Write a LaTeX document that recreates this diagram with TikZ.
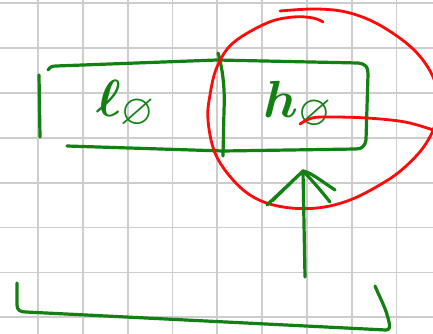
\documentclass[tikz,border=0pt]{standalone}
\usepackage{graphicx}
\usepackage{amssymb}
\definecolor{pen}{RGB}{18,128,18}
\definecolor{redpen}{RGB}{255,10,10}
\definecolor{gridgray}{RGB}{205,205,205}
\begin{document}
\begin{tikzpicture}[x=1pt,y=-1pt,
  gridline/.style={draw=gridgray,line width=1.8pt},
  greenstroke/.style={draw=pen,line width=3.2pt,line cap=round,line join=round},
  redstroke/.style={draw=redpen,line width=2.8pt,line cap=round,line join=round},
  label/.style={text=pen,inner sep=0pt,font=\Huge\boldmath}]
\useasboundingbox (0,0) rectangle (433,334);
\fill[white] (0,0) rectangle (433,334);
% grid
\foreach \i in {0,...,8} \draw[gridline] ({38+44.8*\i},0) -- ({38+44.8*\i},334);
\foreach \j in {0,...,7} \draw[gridline] (0,{3+44.9*\j}) -- (433,{3+44.9*\j});
% box
\draw[greenstroke] (39,75) -- (40,137);
\draw[greenstroke] (48,70) .. controls (50,67) and (52,66) .. (56,66) -- (217,60) -- (358,63) .. controls (366,64) and (368,67) .. (368,74) -- (366,140) .. controls (365,146) and (362,149) .. (356,149) -- (223,151) -- (67,146);
\draw[greenstroke] (218,53) .. controls (223,70) and (225,90) .. (224,110) -- (223,156);
% labels
\node[label] (lo) at (126,104) {\scalebox{2.1}{$\ell_{\varnothing}$}};
\node[label] (ho) at (298,105) {\scalebox{2.1}{$h_{\varnothing}$}};
% red ellipse
\draw[redstroke] plot[smooth,tension=0.6] coordinates {(280,11) (317,9) (350,13) (383,27) (417,53) (436,85) (436,120) (425,145) (405,167) (383,183) (350,200) (317,208) (283,207) (255,198) (233,180) (215,153) (208,120) (210,95) (217,67) (233,43) (267,23) (293,17) (313,18) (323,22)};
\draw[redstroke] plot[smooth,tension=0.6] coordinates {(300,124) (312,118) (330,117) (367,118) (405,122) (433,130)};
% arrow
\coordinate (tail) at (305,277);
\coordinate (tip) at (303,171);
\draw[greenstroke] (tail) -- (tip);
\draw[greenstroke] (tip) -- (267,205) (tip) -- (272,201) (tip) -- (300,174);
\draw[greenstroke] (tip) .. controls (310,172) and (320,180) .. (335,190);
\draw[greenstroke] (tip) .. controls (312,180) and (322,192) .. (330,202);
% bottom bracket
\draw[greenstroke] (17,283) -- (17,305) .. controls (17,310) and (20,312) .. (26,312) -- (386,330) .. controls (390,330) and (390,326) .. (389,322) .. controls (386,308) and (380,298) .. (375,286);
\end{tikzpicture}
\end{document}
